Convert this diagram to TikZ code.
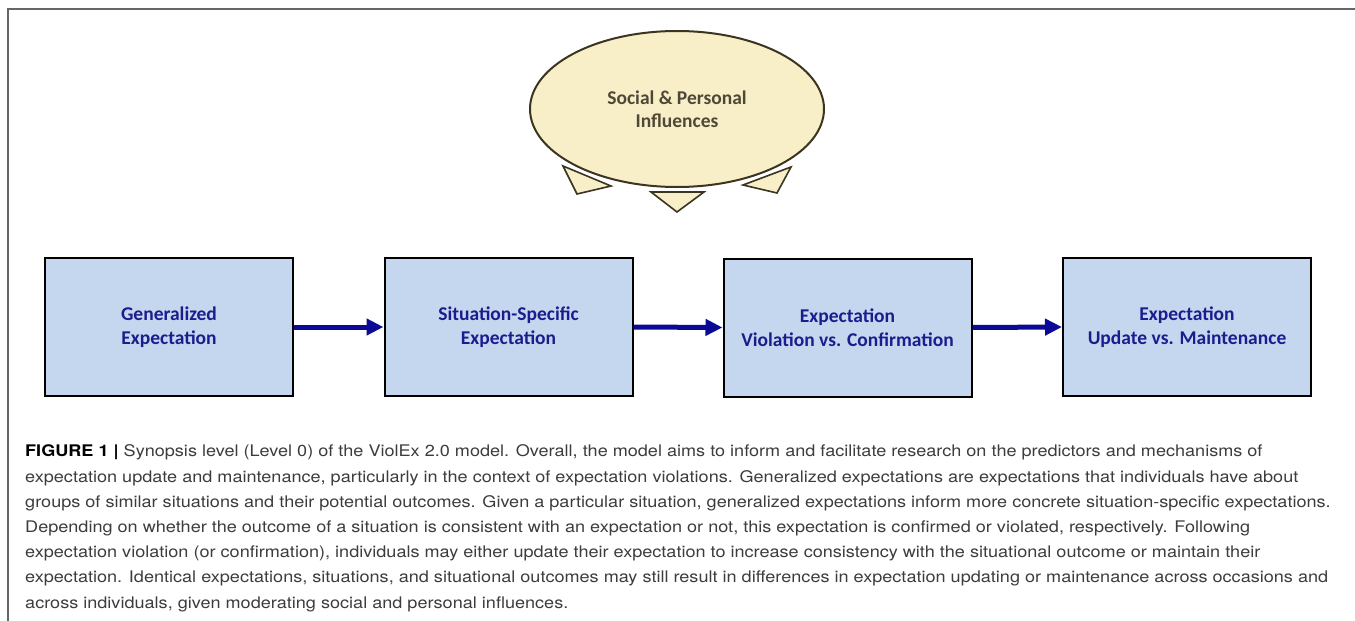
\documentclass[tikz,border=0pt]{standalone}
\usepackage{fontspec}
\setmainfont{TeX Gyre Heros}
\newfontfamily\boxfont{Carlito}
\newfontfamily\capfont[FakeStretch=1.13]{TeX Gyre Heros}
\usetikzlibrary{shapes.geometric,arrows.meta}
\definecolor{boxfill}{HTML}{C4D7EE}
\definecolor{boxtext}{HTML}{1C1C8E}
\definecolor{flowblue}{HTML}{0A0A96}
\definecolor{cloudfill}{HTML}{F8EFC8}
\definecolor{cloudline}{HTML}{3A3420}
\definecolor{captiongrey}{HTML}{3C3C3C}
\tikzset{
  stage/.style={draw=black, line width=2pt, fill=boxfill, minimum width=248pt,
    minimum height=138pt, align=center, text=boxtext,
    font=\boxfont\bfseries\fontsize{19.5}{24}\selectfont},
  flow/.style={draw=flowblue, line width=5pt, -{Triangle[length=17pt,width=16pt]}},
  wedge/.style={fill=cloudfill, draw=cloudline, line width=1.6pt, line join=miter}
}
\begin{document}
\begin{tikzpicture}[x=1pt, y=-1pt]
		\useasboundingbox (0,0) rectangle (1355,621);
		\draw[gray!80!black, line width=2pt] (8,621) -- (8,8.5) -- (1355,8.5);
		% influences
		\node[ellipse, draw=cloudline, line width=2pt, fill=cloudfill, minimum width=294pt,
		  minimum height=156pt, align=center, text=cloudline!90,
		  font=\boxfont\bfseries\fontsize{19.5}{23.5}\selectfont] (infl) at (677,109)
		  {Social \& Personal\\Influences};
		\draw[wedge] (563,166) -- (611,186) -- (577,194) -- cycle;
		\draw[wedge] (651,192) -- (704,192) -- (677,212) -- cycle;
		\draw[wedge] (791,167) -- (743,185) -- (777,193) -- cycle;
		% stages
		\node[stage] (gen) at (169,327) {Generalized\\Expectation};
		\node[stage] (sit) at (508.5,327) {Situation-Specific\\Expectation};
		\node[stage] (viol) at (847.5,327.5) {Expectation\\Violation vs. Confirmation};
		\node[stage] (upd) at (1187,327) {Expectation\\Update vs. Maintenance};
		\draw[flow] (gen.east) -- (sit.west);
		\draw[flow] (sit.east) -- (viol.west);
		\draw[flow] (viol.east) -- (upd.west);
		% caption
		\node[anchor=base west, inner sep=0pt, align=left, text=captiongrey,
		  font=\capfont\fontsize{16}{25.2}\selectfont] (caption) at (25,608)
		  {\textcolor{black}{\textbf{FIGURE 1 |}} Synopsis level (Level 0) of the ViolEx 2.0 model. Overall, the model aims to inform and facilitate research on the predictors and mechanisms of\\
		  expectation update and maintenance, particularly in the context of expectation violations. Generalized expectations are expectations that individuals have about\\
		  groups of similar situations and their potential outcomes. Given a particular situation, generalized expectations inform more concrete situation-specific expectations.\\
		  Depending on whether the outcome of a situation is consistent with an expectation or not, this expectation is confirmed or violated, respectively. Following\\
		  expectation violation (or confirmation), individuals may either update their expectation to increase consistency with the situational outcome or maintain their\\
		  expectation. Identical expectations, situations, and situational outcomes may still result in differences in expectation updating or maintenance across occasions and\\
		  across individuals, given moderating social and personal influences.};
\end{tikzpicture}
\end{document}
